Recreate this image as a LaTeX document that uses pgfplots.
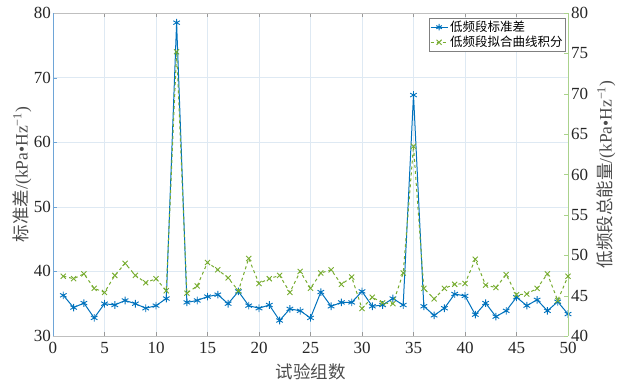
\documentclass[border=0pt]{standalone}
\usepackage{fontspec}
\setmainfont{Liberation Serif}
\newfontfamily\cjk{Noto Sans CJK SC}
\usepackage{pgfplots}
\usepackage{pgfplotstable}
\pgfplotsset{compat=1.18}
\definecolor{mblue}{RGB}{0,114,189}
\definecolor{mgreen}{RGB}{119,172,48}
\definecolor{gridc}{RGB}{222,233,243}
\definecolor{laxis}{RGB}{110,165,215}
\definecolor{raxis}{RGB}{170,210,140}

\pgfplotstableread{
x y
1 36.3
2 34.4
3 35.1
4 32.8
5 35.0
6 34.8
7 35.5
8 35.0
9 34.3
10 34.7
11 35.8
12 78.5
13 35.2
14 35.5
15 36.1
16 36.4
17 35.0
18 36.9
19 34.7
20 34.3
21 34.8
22 32.4
23 34.2
24 33.9
25 32.8
26 36.8
27 34.6
28 35.2
29 35.2
30 36.9
31 34.6
32 34.8
33 35.8
34 34.8
35 67.3
36 34.6
37 33.2
38 34.3
39 36.5
40 36.2
41 33.3
42 35.1
43 33.0
44 33.9
45 36.0
46 34.7
47 35.6
48 33.9
49 35.3
50 33.4
}\stdtab

\pgfplotstableread{
x y
1 47.4
2 47.1
3 47.7
4 45.9
5 45.4
6 47.5
7 49.0
8 47.5
9 46.6
10 47.1
11 45.6
12 75.2
13 45.3
14 46.2
15 49.1
16 48.2
17 47.2
18 45.6
19 49.6
20 46.5
21 47.1
22 47.5
23 45.4
24 48.0
25 45.9
26 47.8
27 48.2
28 46.4
29 47.3
30 43.4
31 44.8
32 44.1
33 44.0
34 47.8
35 63.5
36 45.9
37 44.6
38 45.9
39 46.4
40 46.5
41 49.5
42 46.3
43 46.0
44 47.6
45 45.1
46 45.2
47 45.9
48 47.7
49 44.4
50 47.4
}\inttab

\begin{document}
\begin{tikzpicture}
\useasboundingbox (-53pt,-47pt) rectangle (566pt,336pt);
\pgfplotsset{
  every axis/.append style={
    scale only axis, width=515pt, height=323pt,
    xmin=0, xmax=50,
    tick label style={font=\fontsize{17}{17}\selectfont, black!85},
    label style={font=\fontsize{17.5}{19}\selectfont, black!70},
    /pgf/number format/assume math mode=true,
    tick align=inside,
    major tick length=4pt,
  }
}
\begin{axis}[
  ymin=30, ymax=80,
  axis x line*=box, axis y line*=left,
  x axis line style={color=black!25},
  y axis line style={color=laxis},
  xtick={0,5,...,50}, ytick={30,40,...,80},
  xmajorgrids, ymajorgrids,
  grid style={gridc, line width=0.6pt},
  xtick style={black!40}, ytick style={laxis},
  xticklabel style={inner sep=0pt, yshift=-6pt},
  yticklabel style={inner sep=0pt, xshift=-2pt},
  xlabel={\cjk 试验组数},
  ylabel={{\cjk 标准差}/(kPa•Hz\textsuperscript{−1})},
  xlabel style={at={(axis description cs:0.5,-0.111)}, anchor=center},
  ylabel style={at={(axis description cs:-0.060,0.5)}, anchor=center, rotate=0},
]
\addplot[mblue, line width=1pt, mark=asterisk, mark size=3.8pt, mark options={solid, line width=0.9pt}] table[x=x,y=y]{\stdtab};
\end{axis}
\begin{axis}[
  ymin=40, ymax=80,
  axis x line=none, axis y line*=right,
  y axis line style={color=raxis},
  ytick={40,45,...,80}, ytick style={raxis},
  yticklabel style={inner sep=0pt, xshift=3pt},
  ylabel={{\cjk 低频段总能量}/(kPa•Hz\textsuperscript{−1})},
  ylabel style={at={(axis description cs:1.074,0.5)}, anchor=center, rotate=0},
  legend style={at={(0.996,0.985)}, anchor=north east, draw=black!50, line width=0.6pt,
    font=\fontsize{12.5}{14}\selectfont, inner sep=1pt, row sep=-1pt, cells={anchor=west}},
]
\addlegendimage{mblue, line width=1pt, mark=asterisk, mark size=3.2pt, mark options={solid}}
\addlegendentry{\cjk 低频段标准差}
\addplot[mgreen, dashed, line width=1pt, mark=x, mark size=3.6pt, mark options={solid, line width=0.9pt}] table[x=x,y=y]{\inttab};
\addlegendentry{\cjk 低频段拟合曲线积分}
\end{axis}
\end{tikzpicture}
\end{document}
